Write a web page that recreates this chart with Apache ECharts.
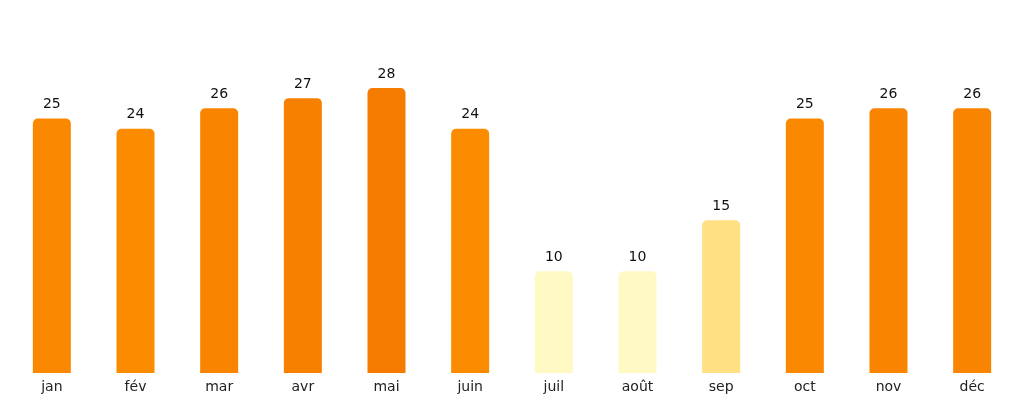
<!DOCTYPE html>
<html>
<head>
<meta charset="utf-8">
<script src="https://cdn.jsdelivr.net/npm/echarts@6/dist/echarts.min.js"></script>
<style>html,body{margin:0;padding:0;background:#fff}#c{width:1024px;height:404px}</style>
</head>
<body>
<div id="c"></div>
<script>
var categories = ['jan','fév','mar','avr','mai','juin','juil','août','sep','oct','nov','déc'];
var values = [25,24,26,27,28,24,10,10,15,25,26,26];

var stops = [[10,'#fff9c4'],[15,'#ffe082'],[24,'#fb8c00'],[28,'#f57c00']];
function colorFor(v){
  for (var i=0;i<stops.length-1;i++){
    var a=stops[i], b=stops[i+1];
    if (v<=b[0]){
      var t=(v-a[0])/(b[0]-a[0]);
      return echarts.color.lerp(Math.max(0,Math.min(1,t)),[a[1],b[1]]);
    }
  }
  return stops[stops.length-1][1];
}

var chart = echarts.init(document.getElementById('c'), null, {renderer:'canvas'});
chart.setOption({
  animation:false,
  grid:{left:10,right:10,top:67.6,bottom:31},
  xAxis:{type:'category',data:categories,
    axisLine:{show:false},axisTick:{show:false},
    axisLabel:{color:'#222',fontSize:14,fontFamily:'DejaVu Sans',margin:7}},
  yAxis:{type:'value',min:0,max:30,show:false,splitLine:{show:false}},
  series:[{type:'bar',data:values,barWidth:38,
    itemStyle:{borderRadius:[5,5,0,0],color:function(p){return colorFor(p.value);}},
    label:{show:true,position:'top',distance:7,color:'#111',fontSize:14,fontFamily:'DejaVu Sans'}}]
});
</script>
</body>
</html>
